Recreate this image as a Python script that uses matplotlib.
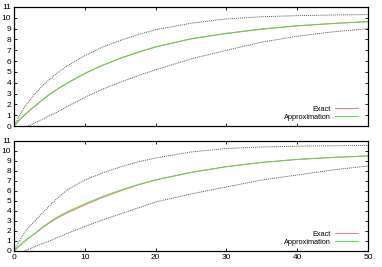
import matplotlib
matplotlib.use('Agg')
import matplotlib.pyplot as plt
import numpy as np

plt.rcParams['font.family'] = ['Liberation Sans', 'DejaVu Sans']

# x positions where values were read
x = [0, 0.5, 1, 1.5, 2, 2.5, 3, 4, 5, 6, 7.5, 10, 12.5, 15, 17.5, 20, 25, 30, 35, 40, 45, 50]

# top panel
top_exact = [0, 0.35, 0.7, 1.0, 1.3, 1.6, 1.85, 2.4, 2.9, 3.35, 3.95, 4.85, 5.6, 6.25, 6.8,
             7.3, 8.05, 8.55, 8.95, 9.25, 9.47, 9.64]
top_approx = [0, 0.38, 0.74, 1.05, 1.34, 1.63, 1.88, 2.42, 2.92, 3.37, 3.97, 4.87, 5.62, 6.27, 6.82,
              7.32, 8.07, 8.57, 8.97, 9.27, 9.48, 9.65]
top_upper = [0, 0.6, 1.2, 1.75, 2.2, 2.6, 3.0, 3.7, 4.3, 4.85, 5.55, 6.5, 7.3, 7.9, 8.45,
             8.9, 9.5, 9.9, 10.1, 10.2, 10.26, 10.3]
x_low_top = [2, 3, 4, 5, 6, 7.5, 10, 12.5, 15, 17.5, 20, 25, 30, 35, 40, 45, 50]
top_lower = [0, 0.3, 0.62, 0.95, 1.25, 1.8, 2.65, 3.4, 4.05, 4.65, 5.2, 6.2, 7.0, 7.75, 8.3, 8.7, 9.0]

# bottom panel
bot_exact = [0, 0.33, 0.65, 0.95, 1.25, 1.5, 1.75, 2.3, 2.8, 3.25, 3.8, 4.6, 5.35, 6.0, 6.6,
             7.1, 7.85, 8.43, 8.85, 9.15, 9.35, 9.5]
bot_approx = [0, 0.34, 0.67, 0.97, 1.27, 1.52, 1.78, 2.36, 2.88, 3.35, 3.92, 4.72, 5.45, 6.07, 6.63,
              7.12, 7.86, 8.44, 8.86, 9.16, 9.36, 9.51]
bot_upper = [0, 0.65, 1.3, 1.85, 2.3, 2.7, 3.05, 3.8, 4.5, 5.2, 6.1, 7.1, 7.8, 8.4, 8.9,
             9.3, 9.9, 10.25, 10.4, 10.48, 10.52, 10.55]
x_low_bot = [1.5, 2.5, 3.5, 5, 6, 7.5, 10, 12.5, 15, 17.5, 20, 25, 30, 35, 40, 45, 50]
bot_lower = [0, 0.3, 0.6, 1.0, 1.3, 1.75, 2.45, 3.1, 3.7, 4.3, 4.9, 5.7, 6.4, 7.1, 7.6, 8.1, 8.5]

xticks = [0, 10, 20, 30, 40, 50]
yticks = list(range(0, 12))

fig = plt.figure(figsize=(3.82, 2.67), dpi=100)
ax1 = fig.add_axes([0.0366, 0.528, 0.9268, 0.4458])
ax2 = fig.add_axes([0.0366, 0.060, 0.9268, 0.412])

panels = [
    (ax1, top_exact, top_approx, top_upper, x_low_top, top_lower),
    (ax2, bot_exact, bot_approx, bot_upper, x_low_bot, bot_lower),
]

for ax, ex, ap, up, xl, lo in panels:
    ax.plot(x, up, color='#555555', linestyle=(0, (1, 1)), linewidth=0.7)
    ax.plot(xl, lo, color='#555555', linestyle=(0, (1, 1)), linewidth=0.7)
    ax.plot(x, ex, color='#ff7070', linewidth=0.7, label='Exact')
    ax.plot(x, ap, color='#55dd55', linewidth=0.7, label='Approximation')
    ax.set_xlim(0, 50)
    ax.set_ylim(0, 11)
    ax.set_xticks(xticks)
    ax.set_yticks(yticks)
    ax.tick_params(direction='in', length=2.5, width=0.6, labelsize=6,
                   top=True, right=True, pad=2)
    for s in ax.spines.values():
        s.set_linewidth(0.9)
    ax.legend(loc='lower right', fontsize=5.3, frameon=False, markerfirst=False,
              handlelength=3.0, handletextpad=0.6, labelspacing=0.1,
              borderaxespad=0.3, bbox_to_anchor=(0.985, 0.0))

ax1.tick_params(labelbottom=False)

fig.savefig('out.png', dpi=100)
